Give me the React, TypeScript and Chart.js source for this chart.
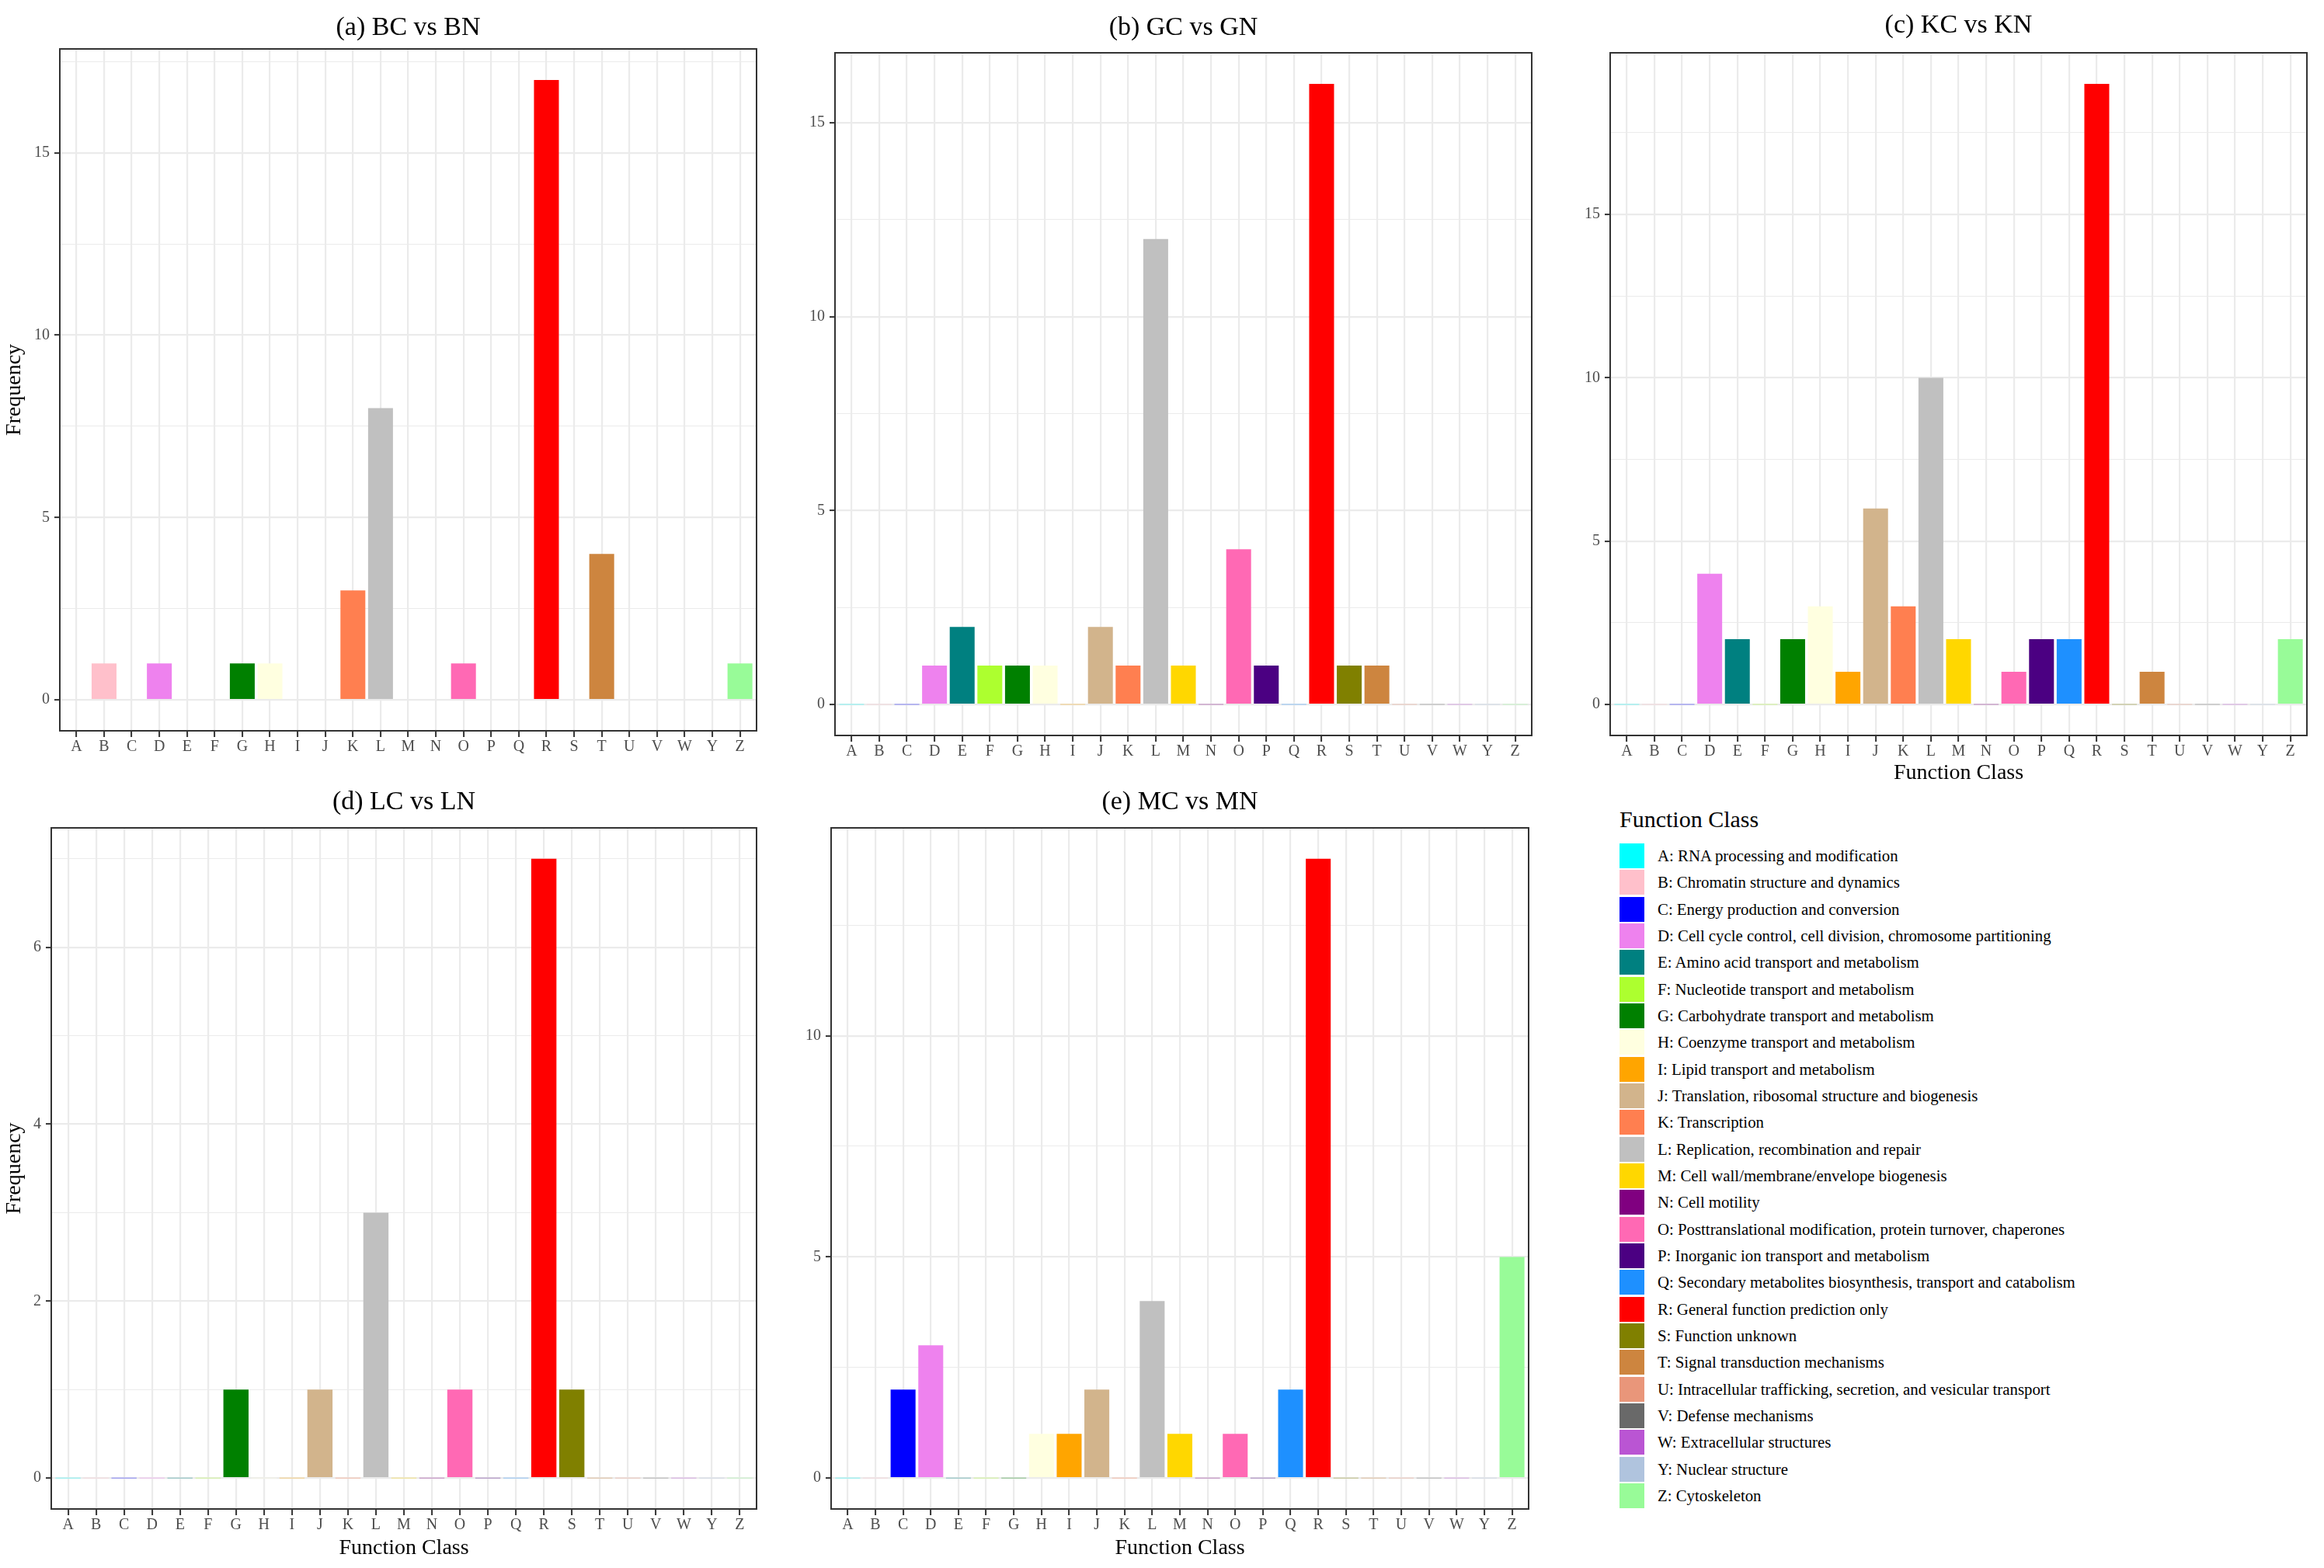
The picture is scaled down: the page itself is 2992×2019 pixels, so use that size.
import { useEffect, useRef } from "react"
import { Chart, registerables } from "chart.js"

Chart.register(...registerables)
Chart.defaults.font.family = "'Liberation Serif', 'Times New Roman', serif"
Chart.defaults.animation = false

// COG function classes (no X)
const classes = ["A", "B", "C", "D", "E", "F", "G", "H", "I", "J", "K", "L", "M", "N", "O", "P", "Q", "R", "S", "T", "U", "V", "W", "Y", "Z"]

const classNames = [
  "RNA processing and modification",
  "Chromatin structure and dynamics",
  "Energy production and conversion",
  "Cell cycle control, cell division, chromosome partitioning",
  "Amino acid transport and metabolism",
  "Nucleotide transport and metabolism",
  "Carbohydrate transport and metabolism",
  "Coenzyme transport and metabolism",
  "Lipid transport and metabolism",
  "Translation, ribosomal structure and biogenesis",
  "Transcription",
  "Replication, recombination and repair",
  "Cell wall/membrane/envelope biogenesis",
  "Cell motility",
  "Posttranslational modification, protein turnover, chaperones",
  "Inorganic ion transport and metabolism",
  "Secondary metabolites biosynthesis, transport and catabolism",
  "General function prediction only",
  "Function unknown",
  "Signal transduction mechanisms",
  "Intracellular trafficking, secretion, and vesicular transport",
  "Defense mechanisms",
  "Extracellular structures",
  "Nuclear structure",
  "Cytoskeleton",
]

const classColors = [
  "#00FFFF", "#FFC0CB", "#0000FF", "#EE82EE", "#008080", "#ADFF2F", "#008000", "#FFFFE0",
  "#FFA500", "#D2B48C", "#FF7F50", "#C0C0C0", "#FFD700", "#800080", "#FF69B4", "#4B0082",
  "#1E90FF", "#FF0000", "#808000", "#CD853F", "#E9967A", "#696969", "#BA55D3", "#B0C4DE",
  "#98FB98",
]

//                A  B  C  D  E  F  G  H  I  J  K  L  M  N  O  P  Q  R   S  T  U  V  W  Y  Z
const bcVsBn =  [0, 1, 0, 1, 0, 0, 1, 1, 0, 0, 3, 8, 0, 0, 1, 0, 0, 17, 0, 4, 0, 0, 0, 0, 1]
const gcVsGn =  [0, 0, 0, 1, 2, 1, 1, 1, 0, 2, 1, 12, 1, 0, 4, 1, 0, 16, 1, 1, 0, 0, 0, 0, 0]
const kcVsKn =  [0, 0, 0, 4, 2, 0, 2, 3, 1, 6, 3, 10, 2, 0, 1, 2, 2, 19, 0, 1, 0, 0, 0, 0, 2]
const lcVsLn =  [0, 0, 0, 0, 0, 0, 1, 0, 0, 1, 0, 3, 0, 0, 1, 0, 0, 7, 1, 0, 0, 0, 0, 0, 0]
const mcVsMn =  [0, 0, 2, 3, 0, 0, 0, 1, 1, 2, 0, 4, 1, 0, 1, 0, 2, 14, 0, 0, 0, 0, 0, 0, 5]

const ticksFive = [0, 5, 10, 15]
const ticksTwo = [0, 2, 4, 6]
const ticksTen = [0, 5, 10]

type Box = { cx: number; cy: number; cw: number; ch: number; l: number; t: number; r: number; b: number }
type PanelDef = {
  title: string
  values: number[]
  ticks: number[]
  box: Box
  titleY: number
  yTitle: boolean
  xTitleY: number | null
  zeroTrace: boolean
}

const panels: PanelDef[] = [
  { title: "(a) BC vs BN", values: bcVsBn, ticks: ticksFive, titleY: 36, yTitle: true, xTitleY: null, zeroTrace: false,
    box: { cx: 0, cy: 0, cw: 982, ch: 1030, l: 77, t: 63, r: 974, b: 941 } },
  { title: "(b) GC vs GN", values: gcVsGn, ticks: ticksFive, titleY: 36, yTitle: false, xTitleY: null, zeroTrace: true,
    box: { cx: 990, cy: 0, cw: 990, ch: 1030, l: 1075, t: 68, r: 1972, b: 947 } },
  { title: "(c) KC vs KN", values: kcVsKn, ticks: ticksFive, titleY: 33, yTitle: false, xTitleY: 996, zeroTrace: true,
    box: { cx: 1985, cy: 0, cw: 993, ch: 1030, l: 2073, t: 68, r: 2970, b: 947 } },
  { title: "(d) LC vs LN", values: lcVsLn, ticks: ticksTwo, titleY: 1033, yTitle: true, xTitleY: 1994, zeroTrace: true,
    box: { cx: 0, cy: 1000, cw: 982, ch: 1019, l: 66, t: 1066, r: 974, b: 1943 } },
  { title: "(e) MC vs MN", values: mcVsMn, ticks: ticksTen, titleY: 1033, yTitle: false, xTitleY: 1994, zeroTrace: true,
    box: { cx: 990, cy: 1000, cw: 986, ch: 1019, l: 1070, t: 1066, r: 1968, b: 1943 } },
]

const fade = (hex: string, a: number) => {
  const n = parseInt(hex.slice(1), 16)
  return `rgba(${(n >> 16) & 255}, ${(n >> 8) & 255}, ${n & 255}, ${a})`
}

const frame = {
  id: "frame",
  afterDraw(chart: Chart) {
    const { ctx, chartArea: a } = chart
    ctx.save()
    ctx.strokeStyle = "#333333"
    ctx.lineWidth = 2
    ctx.strokeRect(a.left, a.top, a.right - a.left, a.bottom - a.top)
    ctx.restore()
  },
}

function Panel({ p }: { p: PanelDef }) {
  const ref = useRef<HTMLCanvasElement>(null)

  useEffect(() => {
    if (!ref.current) return
    const { box } = p
    const maxV = Math.max(...p.values)
    const yMin = -0.05 * maxV
    const yMax = 1.05 * maxV
    const step = p.ticks[1] - p.ticks[0]
    const minor = p.ticks.map((t) => t + step / 2).filter((t) => t < yMax)
    const allTicks = [...p.ticks, ...minor].sort((a, b) => a - b)
    const isMajor = (v: any) => p.ticks.includes(v)
    const titleLH = 34 * 1.2
    const axisLH = 28 * 1.2

    const chart = new Chart(ref.current, {
      type: "bar",
      data: {
        datasets: [{
          data: p.values.map((v, i) => ({ x: i, y: v })),
          backgroundColor: p.values.map((v, i) =>
            v === 0 ? (p.zeroTrace ? fade(classColors[i], 0.3) : "rgba(0,0,0,0)") : classColors[i]),
          borderWidth: 0,
          barPercentage: 0.9,
          categoryPercentage: 1,
          minBarLength: p.zeroTrace ? 1.5 : 0,
        }],
      },
      options: {
        animation: false,
        responsive: false,
        events: [],
        layout: { padding: { left: 0, top: 0, bottom: 0, right: box.cx + box.cw - box.r } },
        plugins: {
          legend: { display: false },
          tooltip: { enabled: false },
          title: {
            display: true,
            fullSize: false,
            text: p.title,
            color: "#000000",
            font: { size: 34, weight: "normal", lineHeight: 1.2 },
            padding: { top: p.titleY - box.cy - titleLH / 2, bottom: box.t - p.titleY - titleLH / 2 },
          },
        },
        scales: {
          x: {
            type: "linear",
            min: -0.6,
            max: classes.length - 0.4,
            offset: false,
            afterBuildTicks: (s: any) => { s.ticks = classes.map((_, i) => ({ value: i })) },
            afterFit: (s: any) => { s.height = box.cy + box.ch - box.b },
            ticks: {
              autoSkip: false,
              maxRotation: 0,
              padding: 1,
              color: "#4D4D4D",
              font: { size: 20 },
              callback: (v: any) => classes[v],
            },
            grid: { offset: false, color: "#EBEBEB", lineWidth: 2.2, tickColor: "#333333", tickLength: 8, tickWidth: 2 },
            border: { display: false },
            title: {
              display: p.xTitleY !== null,
              text: "Function Class",
              color: "#000000",
              font: { size: 28, lineHeight: 1.2 },
              padding: { top: 0, bottom: p.xTitleY !== null ? box.cy + box.ch - p.xTitleY - axisLH / 2 : 0 },
            },
          },
          y: {
            min: yMin,
            max: yMax,
            afterBuildTicks: (s: any) => { s.ticks = allTicks.map((v) => ({ value: v })) },
            afterFit: (s: any) => { s.width = box.l - box.cx },
            ticks: {
              padding: 6,
              color: "#4D4D4D",
              font: { size: 20 },
              callback: (v: any) => (isMajor(v) ? String(v) : ""),
            },
            grid: {
              color: "#EBEBEB",
              lineWidth: (c: any) => (isMajor(c.tick?.value) ? 2.2 : 1.1),
              tickColor: (c: any) => (isMajor(c.tick?.value) ? "#333333" : "rgba(0,0,0,0)"),
              tickLength: 7,
              tickWidth: 2,
            },
            border: { display: false },
            title: {
              display: p.yTitle,
              text: "Frequency",
              color: "#000000",
              font: { size: 28, lineHeight: 1.2 },
              padding: { top: 2, bottom: 0 },
            },
          },
        },
      },
      plugins: [frame],
    } as any)

    return () => { chart.destroy() }
  }, [p])

  const { box } = p
  return (
    <div style={{ position: "absolute", left: box.cx, top: box.cy, width: box.cw, height: box.ch }}>
      <canvas ref={ref} width={box.cw} height={box.ch} style={{ width: box.cw, height: box.ch, display: "block" }} />
    </div>
  )
}

function Legend() {
  const left = 2085
  const top = 1086
  const gap = 34.33
  return (
    <div style={{ position: "absolute", left: 0, top: 0, fontFamily: "'Liberation Serif', 'Times New Roman', serif", color: "#000" }}>
      <div style={{ position: "absolute", left, top: 1037, fontSize: 30, lineHeight: "36px", whiteSpace: "nowrap" }}>
        Function Class
      </div>
      {classes.map((c, i) => (
        <div key={c}>
          <div style={{ position: "absolute", left, top: top + i * gap, width: 32, height: 32, background: classColors[i] }} />
          <div style={{ position: "absolute", left: 2134, top: top + i * gap, fontSize: 20.8, lineHeight: "32px", whiteSpace: "nowrap" }}>
            {c}: {classNames[i]}
          </div>
        </div>
      ))}
    </div>
  )
}

export default function App() {
  return (
    <div style={{ position: "absolute", left: 0, top: 0, width: 2992, height: 2019, background: "#ffffff" }}>
      {panels.map((p) => <Panel key={p.title} p={p} />)}
      <Legend />
    </div>
  )
}
